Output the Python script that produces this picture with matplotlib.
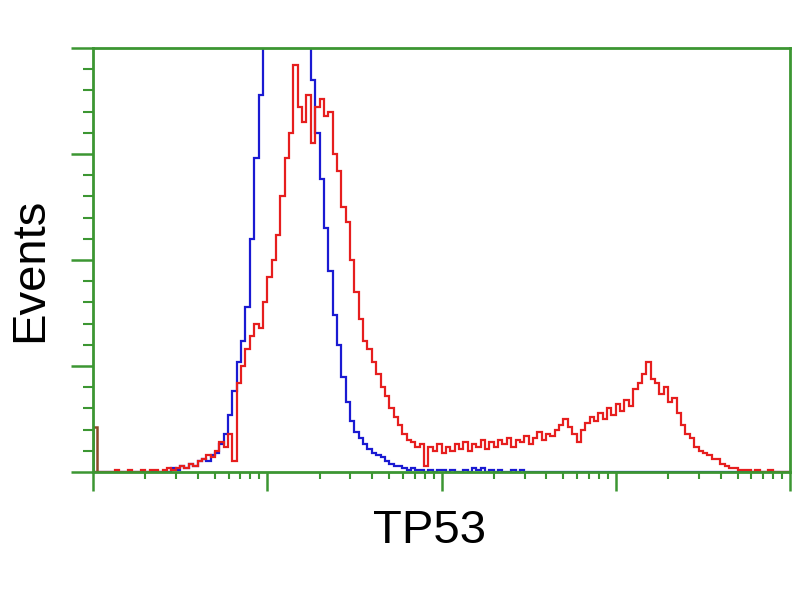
import matplotlib.pyplot as plt
import numpy as np
from matplotlib.ticker import MultipleLocator, LogLocator, NullFormatter

# histogram channels: 160 bins over 4 log decades (40 per decade)
n_bins = 160
edges = 10 ** (np.arange(n_bins + 1) / 40.0)

# control (blue), counts per channel
blue = [0] * 18 + [
    2, 1, 3, 2, 4, 3, 5, 6, 5, 8,
    9, 13, 18, 27, 38, 52, 62, 78, 110, 148,
    178, 205, 240, 250, 262, 270, 268, 275, 266, 258,
    250, 230, 185, 160, 138, 115, 95, 74, 60, 45,
    33, 24, 19, 16, 13, 11, 9, 8, 7, 5,
    4, 3, 3, 2, 1, 2, 1, 1, 0, 1,
    0, 1, 1, 0, 1, 0, 0, 1, 0, 2,
    1, 2, 0, 1, 0, 1, 0, 0, 1, 0,
    1, 0, 0, 0,
]
blue = blue + [0] * (n_bins - len(blue))

# TP53 stained (red), counts per channel
red = [
    0, 0, 0, 0, 0, 1, 0, 0, 1, 0,
    0, 1, 0, 1, 1, 0, 1, 2, 1, 2,
    3, 2, 4, 3, 5, 6, 8, 7, 10, 14,
    12, 18, 5, 42, 50, 58, 64, 70, 68, 80,
    92, 100, 112, 130, 148, 160, 192, 172, 165, 178,
    155, 172, 176, 168, 170, 150, 142, 125, 118, 100,
    85, 72, 62, 58, 52, 46, 40, 36, 30, 26,
    22, 18, 15, 14, 12, 13, 3, 12, 10, 13,
    9, 12, 10, 13, 11, 14, 10, 13, 12, 15,
    11, 14, 12, 15, 13, 16, 12, 15, 14, 17,
    13, 16, 19, 15, 18, 17, 20, 22, 25, 21,
    18, 14, 20, 23, 26, 24, 28, 25, 30, 27,
    32, 29, 34, 31, 39, 42, 46, 52, 44, 42,
    37, 40, 33, 35, 28, 22, 18, 16, 12, 10,
    9, 8, 6, 6, 4, 3, 2, 2, 1, 1,
    1, 0, 1, 0, 0, 1, 0, 0, 0, 0,
]

# first channel (off-scale events)
first_channel = [21]

green = "#3c9632"

fig = plt.figure(figsize=(8, 6), dpi=100)
ax = fig.add_axes([0.11625, 0.2133, 0.87125, 0.7067])

ax.stairs(blue, edges, color="#1a1ad2", linewidth=1.6)
ax.stairs(red, edges, color="#e61e1e", linewidth=1.6)
ax.stairs(first_channel, edges[:2], color="#8c4a28", linewidth=1.8)

ax.set_xscale("log")
ax.set_xlim(1, 1e4)
ax.set_ylim(0, 200)

for s in ax.spines.values():
    s.set_color(green)
    s.set_linewidth(2.0)

ax.xaxis.set_major_locator(LogLocator(base=10, numticks=10))
ax.xaxis.set_minor_locator(LogLocator(base=10, subs=np.arange(2, 10), numticks=20))
ax.xaxis.set_major_formatter(NullFormatter())
ax.xaxis.set_minor_formatter(NullFormatter())
ax.yaxis.set_major_locator(MultipleLocator(50))
ax.yaxis.set_minor_locator(MultipleLocator(10))
ax.set_yticklabels([])

ax.tick_params(axis="x", which="major", direction="out", length=14, width=1.8, color=green)
ax.tick_params(axis="x", which="minor", direction="out", length=5, width=1.5, color=green)
ax.tick_params(axis="y", which="major", direction="out", length=16, width=1.8, color=green)
ax.tick_params(axis="y", which="minor", direction="out", length=7, width=1.5, color=green)

fig.text(0.5375, 0.115, "TP53", fontsize=34, family="Liberation Sans",
         ha="center", va="center")
fig.text(0.038, 0.55, "Events", fontsize=34, family="Liberation Sans",
         ha="center", va="center", rotation=90)

fig.savefig("out.png", dpi=100)
